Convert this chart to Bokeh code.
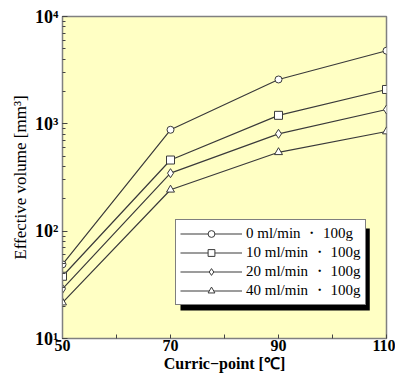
from bokeh.plotting import figure
from bokeh.models import (FixedTicker, LogTicker, Legend, LegendItem, Range1d, BoxAnnotation)
from bokeh.embed import file_html
from bokeh.resources import INLINE

# ---- data ----
curie_point = [50, 70, 90, 110]
series_names = ["0 ml/min ・ 100g", "10 ml/min ・ 100g", "20 ml/min ・ 100g", "40 ml/min ・ 100g"]
vol_0ml = [49, 880, 2590, 4800]
vol_10ml = [38, 460, 1200, 2090]
vol_20ml = [29, 347, 807, 1360]
vol_40ml = [21.6, 243, 543, 848]
x_ticks = [50, 60, 70, 80, 90, 100, 110]
x_tick_labels = {50: "50", 60: "", 70: "70", 80: "", 90: "90", 100: "", 110: "110"}
y_tick_labels = {10.0: "10\u00b9", 100.0: "10\u00b2", 1000.0: "10\u00b3", 10000.0: "10\u2074"}

SERIF = "Liberation Serif"
LINE = "#3a3a3a"

p = figure(width=395, height=376, output_backend="svg", toolbar_location=None,
           y_axis_type="log", x_range=Range1d(50, 110), y_range=Range1d(10, 10000),
           min_border_left=62, min_border_right=9, min_border_top=16, min_border_bottom=38)
p.background_fill_color = "#ffffc4"
p.border_fill_color = "white"
p.outline_line_color = "#808080"
p.outline_line_width = 1.5
p.grid.visible = False

# x axis
p.xaxis.ticker = FixedTicker(ticks=x_ticks)
p.xaxis.major_label_overrides = x_tick_labels
p.xaxis.major_tick_in = 4
p.xaxis.major_tick_out = 0
p.xaxis.minor_tick_line_color = None
p.xaxis.major_label_text_font = SERIF
p.xaxis.major_label_text_font_style = "bold"
p.xaxis.major_label_text_font_size = "16px"
p.xaxis.major_label_text_color = "black"
p.xaxis.major_label_standoff = 1
p.xaxis.axis_label = "Curric\u2212point [\u2103]"
p.xaxis.axis_label_text_font = SERIF
p.xaxis.axis_label_text_font_style = "bold"
p.xaxis.axis_label_text_font_size = "16px"
p.xaxis.axis_label_text_color = "black"
p.xaxis.axis_label_standoff = 1
p.xaxis.axis_line_color = "#808080"
p.xaxis.major_tick_line_color = "#444444"

# y axis
p.yaxis.ticker = LogTicker(num_minor_ticks=10)
p.yaxis.major_label_overrides = y_tick_labels
p.yaxis.major_tick_in = 5
p.yaxis.major_tick_out = 0
p.yaxis.minor_tick_in = 3
p.yaxis.minor_tick_out = 0
p.yaxis.axis_line_color = "#808080"
p.yaxis.major_tick_line_color = "#444444"
p.yaxis.minor_tick_line_color = "#444444"
p.yaxis.major_label_text_font = SERIF
p.yaxis.major_label_text_font_style = "bold"
p.yaxis.major_label_text_font_size = "18px"
p.yaxis.major_label_text_color = "black"
p.yaxis.major_label_standoff = 4
p.yaxis.axis_label = "Effective volume [mm\u00b3]"
p.yaxis.axis_label_text_font = SERIF
p.yaxis.axis_label_text_font_style = "normal"
p.yaxis.axis_label_text_font_size = "17px"
p.yaxis.axis_label_text_color = "black"
p.yaxis.axis_label_standoff = 2

series = [vol_0ml, vol_10ml, vol_20ml, vol_40ml]
markers = ["circle", "square", "diamond", "triangle"]
sizes = [7, 8, 9, 8]
items = []
for name, vals, mk, sz in zip(series_names, series, markers, sizes):
    ln = p.line(curie_point, vals, line_color=LINE, line_width=1.2)
    sc = p.scatter(curie_point, vals, marker=mk, size=sz, fill_color="white",
                   line_color=LINE, line_width=1)
    items.append(LegendItem(label=name, renderers=[ln, sc]))

# drop shadow behind the legend box
p.add_layout(BoxAnnotation(left=71.85, right=106.9, top=105.9, bottom=18.2,
                           fill_color="black", fill_alpha=1.0, line_color=None))

legend = Legend(items=items, location=(113, 33), orientation="vertical",
                background_fill_color="white", background_fill_alpha=1.0,
                border_line_color="black", border_line_width=1,
                label_text_font=SERIF, label_text_font_size="15px",
                label_text_color="black",
                glyph_width=62, glyph_height=17, label_height=17,
                label_standoff=4, spacing=0, padding=4, margin=0)
p.add_layout(legend, "center")

open("out.html", "w").write(file_html(p, INLINE))
